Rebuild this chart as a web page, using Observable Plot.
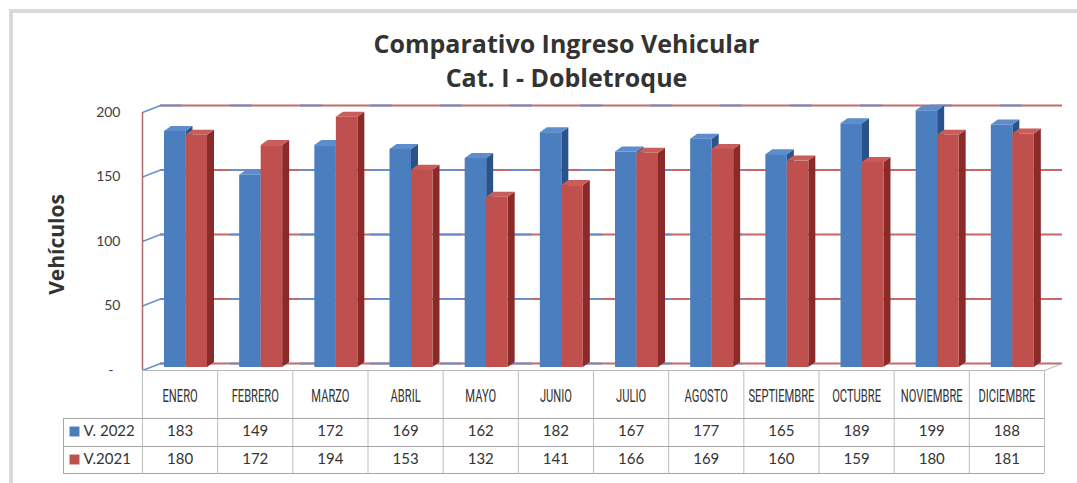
<!DOCTYPE html>
<html>
<head>
<meta charset="utf-8">
<script src="https://cdn.jsdelivr.net/npm/d3@7"></script>
<script src="https://cdn.jsdelivr.net/npm/@observablehq/plot@0.6"></script>
<style>
  html, body { margin: 0; padding: 0; background: #fff; overflow: hidden; }
  #wrap { position: relative; width: 1077px; height: 483px; }
  #frame { position: absolute; left: 9px; top: 9px; width: 1100px; height: 500px;
           border-top: 4px solid #d9d9d9; border-left: 4px solid #d9d9d9; box-sizing: border-box; }
  #chart { position: absolute; left: 0; top: 0; }
</style>
</head>
<body>
<div id="wrap"><div id="frame"></div><div id="chart"></div></div>
<script>
// ---- data ----
const months = ["ENERO","FEBRERO","MARZO","ABRIL","MAYO","JUNIO","JULIO","AGOSTO","SEPTIEMBRE","OCTUBRE","NOVIEMBRE","DICIEMBRE"];
const v2022 = [183,149,172,169,162,182,167,177,165,189,199,188];
const v2021 = [180,172,194,153,132,141,166,169,160,159,180,181];
const seriesNames = ["V. 2022", "V.2021"];
const yTicks = [0, 50, 100, 150, 200];
const yTickLabels = ["-", "50", "100", "150", "200"];
const titleLines = ["Comparativo Ingreso Vehicular", "Cat. I - Dobletroque"];
const yLabel = "Vehículos";

// ---- layout ----
const W = 1077, H = 483;
const X0 = 142, X1 = 1044, Y0 = 370, YTOP = 112;
const kx = (X1 - X0) / months.length;   // px per category
const ky = (Y0 - YTOP) / 200;           // px per unit
const wx = 18 / kx, wy = 7 / ky;        // back-wall depth offset (data units)
const sx = 7 / kx, sy = 5 / ky;         // bar depth (data units)
const barDy = -3;
const barSpan = [[22 / kx, 43.5 / kx], [43.5 / kx, 65 / kx]];
const colors = {
  front: ["#4a7ebf", "#c0504d"],
  top:   ["#5d8dcc", "#c95d59"],
  side:  ["#2a5489", "#8a2b29"]
};
const down = px => -px / ky;

const series = [v2022, v2021];
const bars = series.map((vals, s) => months.map((m, i) => ({
  id: s + "-" + i, i, s, v: vals[i], L: i + barSpan[s][0], R: i + barSpan[s][1]
})));

const barMarks = [];
bars.forEach((bs, s) => {
  const side = bs.flatMap(b => [
    {id: b.id, x: b.R, y1: 0, y2: b.v},
    {id: b.id, x: b.R + sx, y1: sy, y2: b.v + sy}
  ]);
  const top = bs.flatMap(b => [
    {id: b.id, x: b.L, y1: b.v, y2: b.v},
    {id: b.id, x: b.L + sx, y1: b.v, y2: b.v + sy},
    {id: b.id, x: b.R, y1: b.v, y2: b.v + sy},
    {id: b.id, x: b.R + sx, y1: b.v + sy, y2: b.v + sy}
  ]);
  barMarks.push(
    Plot.areaY(side, {x: "x", y1: "y1", y2: "y2", z: "id", fill: colors.side[s], dy: barDy}),
    Plot.areaY(top, {x: "x", y1: "y1", y2: "y2", z: "id", fill: colors.top[s], dy: barDy}),
    Plot.rect(bs, {x1: "L", x2: "R", y1: 0, y2: "v", fill: colors.front[s], dy: barDy})
  );
});

const gridRed = "#c46a6a", gridBlue = "#6a8fcc";
const n = months.length;
const rowMid = [61, 89];     // px below the baseline for the two table rows

const plot = Plot.plot({
  width: W, height: H,
  marginLeft: X0, marginRight: W - X1, marginTop: YTOP, marginBottom: H - Y0,
  x: {domain: [0, n], axis: null},
  y: {domain: [0, 200], axis: null},
  style: {fontFamily: "Lato, 'Open Sans', sans-serif", background: "transparent", overflow: "visible"},
  marks: [
    // back wall gridlines
    Plot.ruleY(yTicks, {x1: wx, x2: n + wx, y: d => d + wy, stroke: gridRed, strokeWidth: 2}),
    Plot.ruleY(yTicks, {x1: wx, x2: n + wx, y: d => d + wy, stroke: gridBlue, strokeWidth: 2, strokeDasharray: "22 48"}),
    // left wall diagonals
    Plot.link(yTicks, {x1: 0, x2: wx, y1: d => d, y2: d => d + wy, stroke: gridBlue, strokeWidth: 1.5}),
    // left front axis
    Plot.ruleX([0], {y1: 0, y2: 200, stroke: "#b06a6a", strokeWidth: 1.5}),
    // floor edges
    Plot.ruleY([0], {x1: 0, x2: n, stroke: "#b8b8b8", strokeWidth: 1}),
    Plot.link([n], {x1: d => d, x2: d => d + wx, y1: 0, y2: wy, stroke: "#b8b8b8", strokeWidth: 1}),
    ...barMarks,
    // y tick labels
    Plot.text(yTicks.slice(1), {x: 0, y: d => d, dx: -22, text: (d, i) => yTickLabels[i + 1], textAnchor: "end", fontSize: 14, fill: "#404040"}),
    Plot.text(yTicks.slice(0, 1), {x: 0, y: d => d, dx: -29, text: (d, i) => yTickLabels[i], textAnchor: "end", fontSize: 14, fill: "#404040"}),
    // y axis label
    Plot.text([yLabel], {x: 0, y: 100, dx: -85, dy: 3, rotate: -90, fontSize: 21, fontWeight: "bold", fill: "#333",
      fontFamily: "'Open Sans', sans-serif"}),
    // title (two lines in one text element)
    Plot.text([titleLines.join("\n")], {frameAnchor: "top", lineAnchor: "middle", lineHeight: 34 / 25, dx: -27, dy: -53.5,
      fontSize: 25, fontWeight: "bold", fill: "#333", fontFamily: "'Open Sans', sans-serif"}),
    // data table grid
    Plot.ruleX(d3.range(n + 1), {x: d => d, y1: down(103), y2: 0, stroke: "#bdbdbd", strokeWidth: 1}),
    Plot.ruleY([down(48), down(76), down(103)], {x1: -79 / kx, x2: n, y: d => d, stroke: "#a6a6a6", strokeWidth: 1}),
    Plot.ruleX([-79 / kx], {y1: down(103), y2: down(48), stroke: "#a6a6a6", strokeWidth: 1}),
    // header labels
    Plot.text(months, {x: (d, i) => i + 0.5, y: 0, dy: 26, text: d => d, fontSize: 18, fill: "#333",
      fontFamily: "Roboto, sans-serif"}),
    // values
    ...series.map((vals, s) => Plot.text(vals, {x: (d, i) => i + 0.5, y: 0, dy: rowMid[s], text: d => String(d), fontSize: 15, fill: "#333"})),
    // legend keys
    ...seriesNames.map((name, s) => Plot.dot([name], {x: 0, y: 0, dx: -68, dy: rowMid[s], symbol: "square", r: 5.6, fill: colors.front[s], stroke: "none"})),
    ...seriesNames.map((name, s) => Plot.text([name], {x: 0, y: 0, dx: -59, dy: rowMid[s], text: d => d, textAnchor: "start", fontSize: 15, fill: "#333"}))
  ]
});
document.getElementById("chart").appendChild(plot);
// condense the month header labels horizontally about their own centres
d3.select(plot).selectAll("text").filter(function() { return months.includes(this.textContent); }).each(function() {
  const bb = this.getBBox();
  const cx = bb.x + bb.width / 2;
  const t = this.getAttribute("transform") || "";
  this.setAttribute("transform", `${t} translate(${cx},0) scale(0.62,1) translate(${-cx},0)`);
});
</script>
</body>
</html>
